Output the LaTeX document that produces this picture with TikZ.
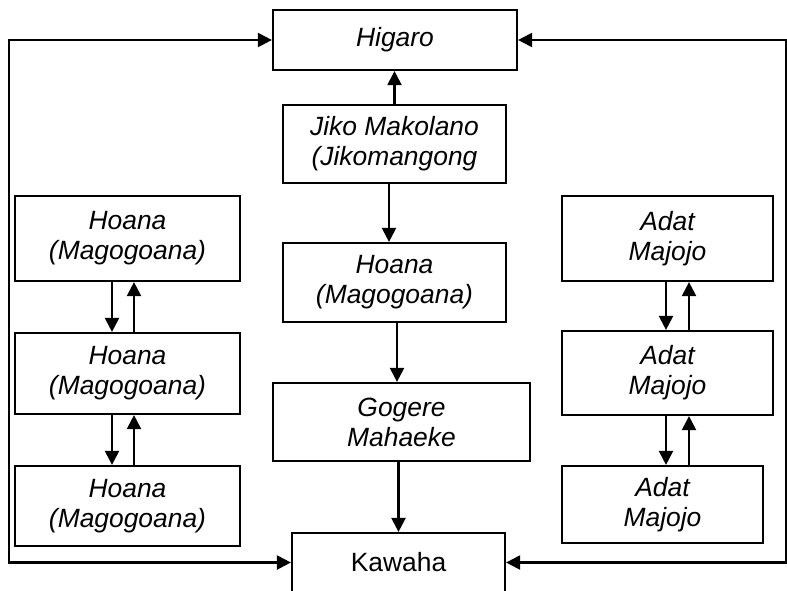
\documentclass[tikz,border=0pt]{standalone}
\usepackage{fontspec}
\setmainfont{Liberation Sans}
\usetikzlibrary{arrows.meta}

\begin{document}
\begin{tikzpicture}[x=0.5pt,y=-0.5pt,line width=1.1pt,>={Triangle[length=7pt,width=7pt]},
  box/.style={draw,inner sep=0pt,align=center,font=\fontsize{13.2}{15}\selectfont\itshape}]
\clip (0,0) rectangle (787,590);
% middle column
\node[box,minimum width=122pt,minimum height=30pt] (hig) at (395,40) {Higaro};
\node[box,minimum width=111.5pt,minimum height=39pt] (jiko) at (394.5,144) {Jiko Makolano\\(Jikomangong};
\node[box,minimum width=111.5pt,minimum height=39.5pt] (hoM) at (394.5,282.5) {Hoana\\(Magogoana)};
\node[box,minimum width=128.5pt,minimum height=39pt] (gog) at (401.5,422) {Gogere\\Mahaeke};
\node[box,font=\fontsize{13.2}{15}\selectfont,minimum width=106.5pt,minimum height=29.5pt] (kaw) at (398.5,562.5) {Kawaha};
% left column
\node[box,minimum width=112.5pt,minimum height=42.5pt] (hoL1) at (127.5,238.5) {Hoana\\(Magogoana)};
\node[box,minimum width=112.5pt,minimum height=40.5pt] (hoL2) at (127.5,373.5) {Hoana\\(Magogoana)};
\node[box,minimum width=112.5pt,minimum height=40pt] (hoL3) at (127.5,506) {Hoana\\(Magogoana)};
% right column
\node[box,minimum width=105.5pt,minimum height=42.5pt] (adR1) at (667.5,238.5) {Adat\\Majojo};
\node[box,minimum width=105.5pt,minimum height=42pt] (adR2) at (667.5,373) {Adat\\Majojo};
\node[box,minimum width=100.5pt,minimum height=38.5pt] (adR3) at (662.5,504.5) {Adat\\Majojo};
% flow
\draw [->] (jiko.north) -- (jiko.north |- hig.south);
\coordinate (jd) at ([xshift=-2.75pt]jiko.south);
\draw [->] (jd) -- (jd |- hoM.north);
\coordinate (hd) at ([xshift=1.25pt]hoM.south);
\draw [->] (hd) -- (hd |- gog.north);
\draw [->] (gog.south -| kaw.north) -- (kaw);
\foreach \a/\b in {hoL1/hoL2,hoL2/hoL3} {
  \draw [->] ([xshift=-7.75pt]\a.south) -- ([xshift=-7.75pt]\b.north);
  \draw [->] ([xshift=3.25pt]\b.north) -- ([xshift=3.25pt]\a.south);
}
\coordinate (rd) at ([xshift=-0.75pt]adR2.south);
\coordinate (ru) at ([xshift=10.75pt]adR2.south);
\draw [->] ([xshift=-0.75pt]adR1.south) -- ([xshift=-0.75pt]adR2.north);
\draw [->] ([xshift=10.75pt]adR2.north) -- ([xshift=10.75pt]adR1.south);
\draw [->] (rd) -- (rd |- adR3.north);
\draw [->] (ru |- adR3.north) -- (ru);
% outer loops
\coordinate (lft) at (9,300);
\coordinate (rgt) at (786,300);
\draw [<->] (hig.west) -| (lft) |- (kaw.west);
\draw [<->] (hig.east) -| (rgt) |- (kaw.east);
\end{tikzpicture}
\end{document}
